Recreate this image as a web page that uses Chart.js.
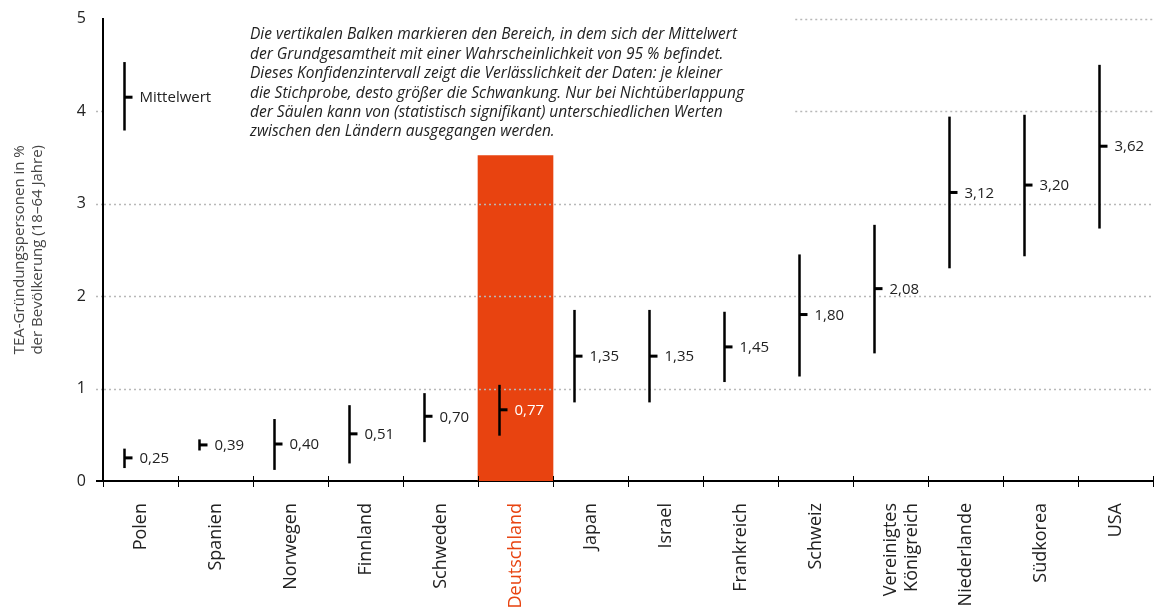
<!DOCTYPE html>
<html>
<head>
<meta charset="utf-8">
<script src="https://cdn.jsdelivr.net/npm/chart.js@4.4.1/dist/chart.umd.min.js"></script>
<style>
  html, body { margin: 0; padding: 0; background: #fff; }
  #wrap { width: 1158px; height: 612px; }
</style>
</head>
<body>
<div id="wrap"><canvas id="grafico"></canvas></div>
<script>
const laender = ['Polen', 'Spanien', 'Norwegen', 'Finnland', 'Schweden', 'Deutschland', 'Japan',
                 'Israel', 'Frankreich', 'Schweiz', ['Vereinigtes', 'Königreich'], 'Niederlande', 'Südkorea', 'USA'];
const mittelwerte = [0.25, 0.39, 0.40, 0.51, 0.70, 0.77, 1.35, 1.35, 1.45, 1.80, 2.08, 3.12, 3.20, 3.62];
const untereGrenze = [0.14, 0.33, 0.12, 0.19, 0.42, 0.49, 0.85, 0.85, 1.07, 1.13, 1.38, 2.30, 2.43, 2.73];
const obereGrenze = [0.35, 0.45, 0.67, 0.82, 0.95, 1.04, 1.85, 1.85, 1.83, 2.45, 2.77, 3.94, 3.96, 4.50];
const hervorhebung = [null, null, null, null, null, 3.52, null, null, null, null, null, null, null, null];
const yTicks = [0, 1, 2, 3, 4, 5];
// Legendenbalken oben links (bei Polen)
const legendeBalken = [3.79, 4.53];
const legendeMittel = 4.15;
const hinweis = [
    'Die vertikalen Balken markieren den Bereich, in dem sich der Mittelwert',
    'der Grundgesamtheit mit einer Wahrscheinlichkeit von 95 % befindet.',
    'Dieses Konfidenzintervall zeigt die Verlässlichkeit der Daten: je kleiner',
    'die Stichprobe, desto größer die Schwankung. Nur bei Nichtüberlappung',
    'der Säulen kann von (statistisch signifikant) unterschiedlichen Werten',
    'zwischen den Ländern ausgegangen werden.'
];

const ORANGE = '#E84310';
const GRID = '#b8b8b8';
const FONT = '"Open Sans", "Noto Sans", sans-serif';

const fmt = (v) => v.toFixed(2).replace('.', ',');

const fehlerbalken = {
    id: 'fehlerbalken',
    afterDraw(chart) {
        const { ctx, chartArea } = chart;
        const x = chart.scales.x;
        const y = chart.scales.y;
        const step = x.getPixelForValue(1) - x.getPixelForValue(0);
        const xStart = x.getPixelForValue(9) - 0.27 * step;

        // gepunktete Hilfslinien (bei 4 und 5 nur rechts vom Text)
        ctx.save();
        ctx.strokeStyle = GRID;
        ctx.lineWidth = 1.5;
        ctx.setLineDash([2, 3]);
        yTicks.forEach((v) => {
            if (v === 0) return;
            const py = Math.round(y.getPixelForValue(v)) + 0.5;
            if (v < 5) {
                ctx.beginPath();
                ctx.moveTo(chartArea.left - 7, py);
                ctx.lineTo(chartArea.left - 1, py);
                ctx.stroke();
            }
            ctx.beginPath();
            ctx.moveTo(v >= 4 ? xStart : chartArea.left + 1, py);
            ctx.lineTo(chartArea.right, py);
            ctx.stroke();
        });
        ctx.restore();

        // Striche an der x-Achse
        ctx.save();
        ctx.strokeStyle = '#000';
        ctx.lineWidth = 1;
        for (let i = 0; i <= laender.length; i++) {
            const px = Math.round(x.getPixelForValue(i) - step / 2) + 0.5;
            ctx.beginPath();
            ctx.moveTo(px, chartArea.bottom - 5);
            ctx.lineTo(px, chartArea.bottom);
            ctx.stroke();
        }
        const p0 = Math.round(y.getPixelForValue(0));
        ctx.lineWidth = 2;
        ctx.beginPath();
        ctx.moveTo(chartArea.left - 7, p0);
        ctx.lineTo(chartArea.left, p0);
        ctx.stroke();
        ctx.restore();

        const zeichne = (i, lo, hi, m, text, farbe) => {
            const px = x.getPixelForValue(i) - 16;
            ctx.fillStyle = '#000';
            ctx.fillRect(px - 1.25, y.getPixelForValue(hi), 2.5, y.getPixelForValue(lo) - y.getPixelForValue(hi));
            const pm = y.getPixelForValue(m);
            ctx.fillRect(px, pm - 1.5, 8, 3);
            ctx.fillStyle = farbe;
            ctx.font = '15px ' + FONT;
            ctx.textAlign = 'left';
            ctx.textBaseline = 'middle';
            ctx.fillText(text, px + 15, pm + 1);
        };

        ctx.save();
        laender.forEach((_, i) => {
            zeichne(i, untereGrenze[i], obereGrenze[i], mittelwerte[i], fmt(mittelwerte[i]),
                    hervorhebung[i] ? '#ffffff' : '#222');
        });
        zeichne(0, legendeBalken[0], legendeBalken[1], legendeMittel, 'Mittelwert', '#222');

        ctx.fillStyle = '#222';
        ctx.font = 'italic 15.5px ' + FONT;
        ctx.textBaseline = 'middle';
        hinweis.forEach((zeile, k) => {
            ctx.fillText(zeile, 250, 35 + k * 19.4);
        });
        ctx.restore();
    }
};

new Chart(document.getElementById('grafico'), {
    type: 'bar',
    data: {
        labels: laender,
        datasets: [{
            label: 'Deutschland',
            data: hervorhebung,
            backgroundColor: ORANGE,
            borderWidth: 0,
            barPercentage: 1,
            categoryPercentage: 1
        }]
    },
    options: {
        responsive: true,
        maintainAspectRatio: false,
        animation: false,
        layout: { padding: { top: 13, right: 5, left: 0, bottom: 0 } },
        plugins: {
            legend: { display: false },
            tooltip: { enabled: false }
        },
        scales: {
            x: {
                offset: true,
                afterFit: (s) => { s.height = 131; },
                border: { color: '#000', width: 2 },
                grid: {
                    offset: true,
                    drawOnChartArea: false,
                    drawTicks: true,
                    tickLength: 6,
                    color: '#000',
                    lineWidth: 1
                },
                ticks: {
                    autoSkip: false,
                    minRotation: 90,
                    maxRotation: 90,
                    padding: 16,
                    font: { family: FONT, size: 18 },
                    color: (c) => c.index === 5 ? ORANGE : '#222'
                }
            },
            y: {
                min: 0,
                max: 5,
                afterFit: (s) => { s.width = 103; },
                afterBuildTicks: (s) => { s.ticks = yTicks.map((v) => ({ value: v })); },
                border: { color: '#000', width: 2 },
                grid: { display: false },
                ticks: {
                    padding: 9,
                    font: { family: FONT, size: 16 },
                    color: '#222'
                },
                title: {
                    display: true,
                    text: ['TEA-Gründungspersonen in %', 'der Bevölkerung (18–64 Jahre)'],
                    color: '#444',
                    font: { family: FONT, size: 15 },
                    padding: { top: 11, bottom: 0 }
                }
            }
        }
    },
    plugins: [fehlerbalken]
});
</script>
</body>
</html>
